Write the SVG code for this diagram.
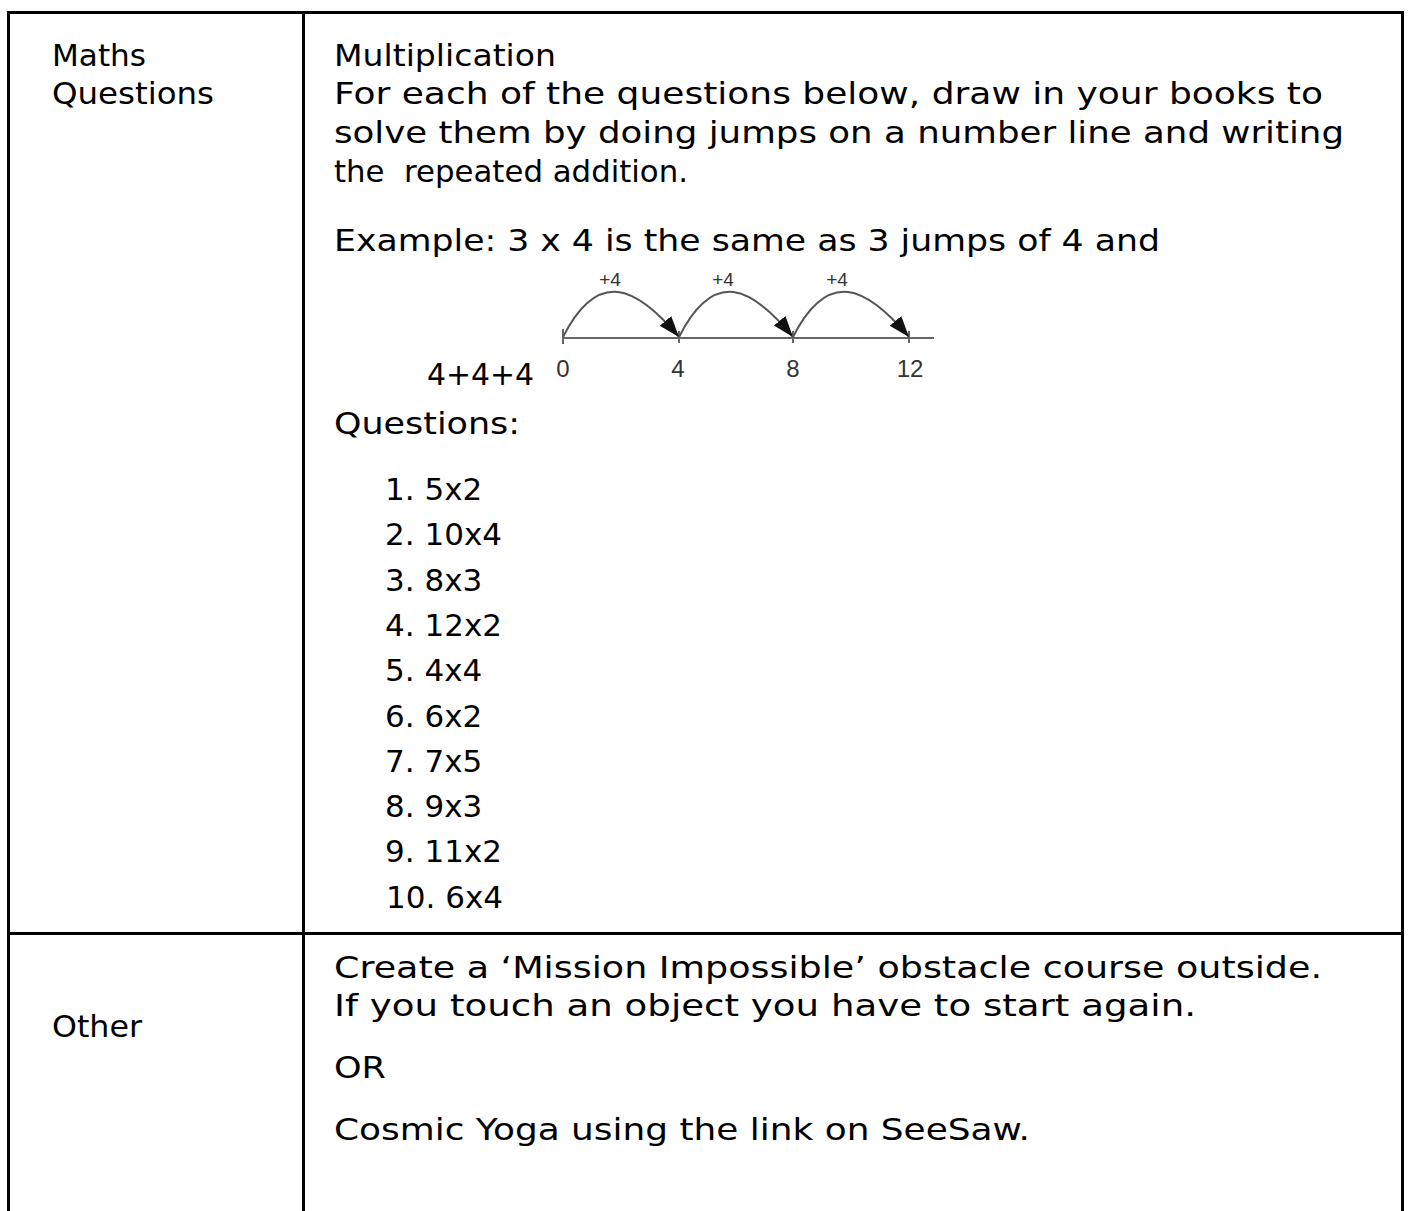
<svg xmlns="http://www.w3.org/2000/svg" width="1409" height="1211" viewBox="0 0 1409 1211">
<defs>
<style>
.t{font-family:"DejaVu Sans","Liberation Sans",sans-serif;font-size:31px;fill:#000}
.g{font-family:"Liberation Sans","DejaVu Sans",sans-serif;fill:#333}
.rule{stroke:#000;stroke-width:3;fill:none}
.arc{stroke:#555;stroke-width:2;fill:none}
.axis{stroke:#666;stroke-width:2;fill:none}
</style>
<marker id="ah" markerUnits="userSpaceOnUse" markerWidth="24" markerHeight="16" refX="21" refY="7.5" orient="auto">
<path d="M0,0 L21,7.5 L0,15 z" fill="#111"/>
</marker>
</defs>
<rect width="1409" height="1211" fill="#fff"/>
<g id="table-lines">
<line class="rule" x1="7" y1="12.5" x2="1404" y2="12.5"/>
<line class="rule" x1="8.5" y1="11" x2="8.5" y2="1211"/>
<line class="rule" x1="303.5" y1="11" x2="303.5" y2="1211"/>
<line class="rule" x1="1402.5" y1="11" x2="1402.5" y2="1211"/>
<line class="rule" x1="7" y1="933.5" x2="1404" y2="933.5"/>
</g>
<g id="label-maths">
<text class="t" x="52" y="66" textLength="94" lengthAdjust="spacingAndGlyphs">Maths</text>
<text class="t" x="52" y="104" textLength="162" lengthAdjust="spacingAndGlyphs">Questions</text>
</g>
<g id="maths-content">
<text class="t" x="334" y="66" textLength="222" lengthAdjust="spacingAndGlyphs">Multiplication</text>
<text class="t" x="334" y="104" textLength="989" lengthAdjust="spacingAndGlyphs">For each of the questions below, draw in your books to</text>
<text class="t" x="334" y="143" textLength="1010" lengthAdjust="spacingAndGlyphs">solve them by doing jumps on a number line and writing</text>
<text class="t" x="334" y="182" textLength="354" lengthAdjust="spacingAndGlyphs" xml:space="preserve">the  repeated addition.</text>
<text class="t" x="334" y="251" textLength="826" lengthAdjust="spacingAndGlyphs">Example: 3 x 4 is the same as 3 jumps of 4 and</text>
<text class="t" x="427" y="385" textLength="107" lengthAdjust="spacingAndGlyphs">4+4+4</text>
<text class="t" x="334" y="434" textLength="186" lengthAdjust="spacingAndGlyphs">Questions:</text>
</g>
<g id="number-line">
<line class="axis" x1="563" y1="338" x2="934" y2="338"/>
<line class="axis" x1="563" y1="329" x2="563" y2="344"/>
<line class="axis" x1="679" y1="331" x2="679" y2="343"/>
<line class="axis" x1="793" y1="331" x2="793" y2="343"/>
<line class="axis" x1="909" y1="331" x2="909" y2="343"/>
<path class="arc" marker-end="url(#ah)" d="M563,337 C598,268 636,286 679,337"/>
<path class="arc" marker-end="url(#ah)" d="M679,337 C714,268 751,286 793,337"/>
<path class="arc" marker-end="url(#ah)" d="M793,337 C828,268 866,286 909,337"/>
<text class="g" x="610" y="286" font-size="19" text-anchor="middle" fill="#222">+4</text>
<text class="g" x="723" y="286" font-size="19" text-anchor="middle" fill="#222">+4</text>
<text class="g" x="837" y="286" font-size="19" text-anchor="middle" fill="#222">+4</text>
<text class="g" x="563" y="377" font-size="24" text-anchor="middle">0</text>
<text class="g" x="678" y="377" font-size="24" text-anchor="middle">4</text>
<text class="g" x="793" y="377" font-size="24" text-anchor="middle">8</text>
<text class="g" x="910" y="377" font-size="24" text-anchor="middle">12</text>
</g>
<g id="question-list">
<text class="t" x="385" y="500">1. 5x2</text>
<text class="t" x="385" y="545">2. 10x4</text>
<text class="t" x="385" y="591">3. 8x3</text>
<text class="t" x="385" y="636">4. 12x2</text>
<text class="t" x="385" y="681">5. 4x4</text>
<text class="t" x="385" y="727">6. 6x2</text>
<text class="t" x="385" y="772">7. 7x5</text>
<text class="t" x="385" y="817">8. 9x3</text>
<text class="t" x="385" y="862">9. 11x2</text>
<text class="t" x="386" y="908">10. 6x4</text>
</g>
<g id="label-other">
<text class="t" x="52" y="1037" textLength="90" lengthAdjust="spacingAndGlyphs">Other</text>
</g>
<g id="other-content">
<text class="t" x="334" y="978" textLength="988" lengthAdjust="spacingAndGlyphs">Create a ‘Mission Impossible’ obstacle course outside.</text>
<text class="t" x="334" y="1016" textLength="862" lengthAdjust="spacingAndGlyphs">If you touch an object you have to start again.</text>
<text class="t" x="334" y="1078" textLength="52" lengthAdjust="spacingAndGlyphs">OR</text>
<text class="t" x="334" y="1140" textLength="696" lengthAdjust="spacingAndGlyphs">Cosmic Yoga using the link on SeeSaw.</text>
</g>
</svg>
